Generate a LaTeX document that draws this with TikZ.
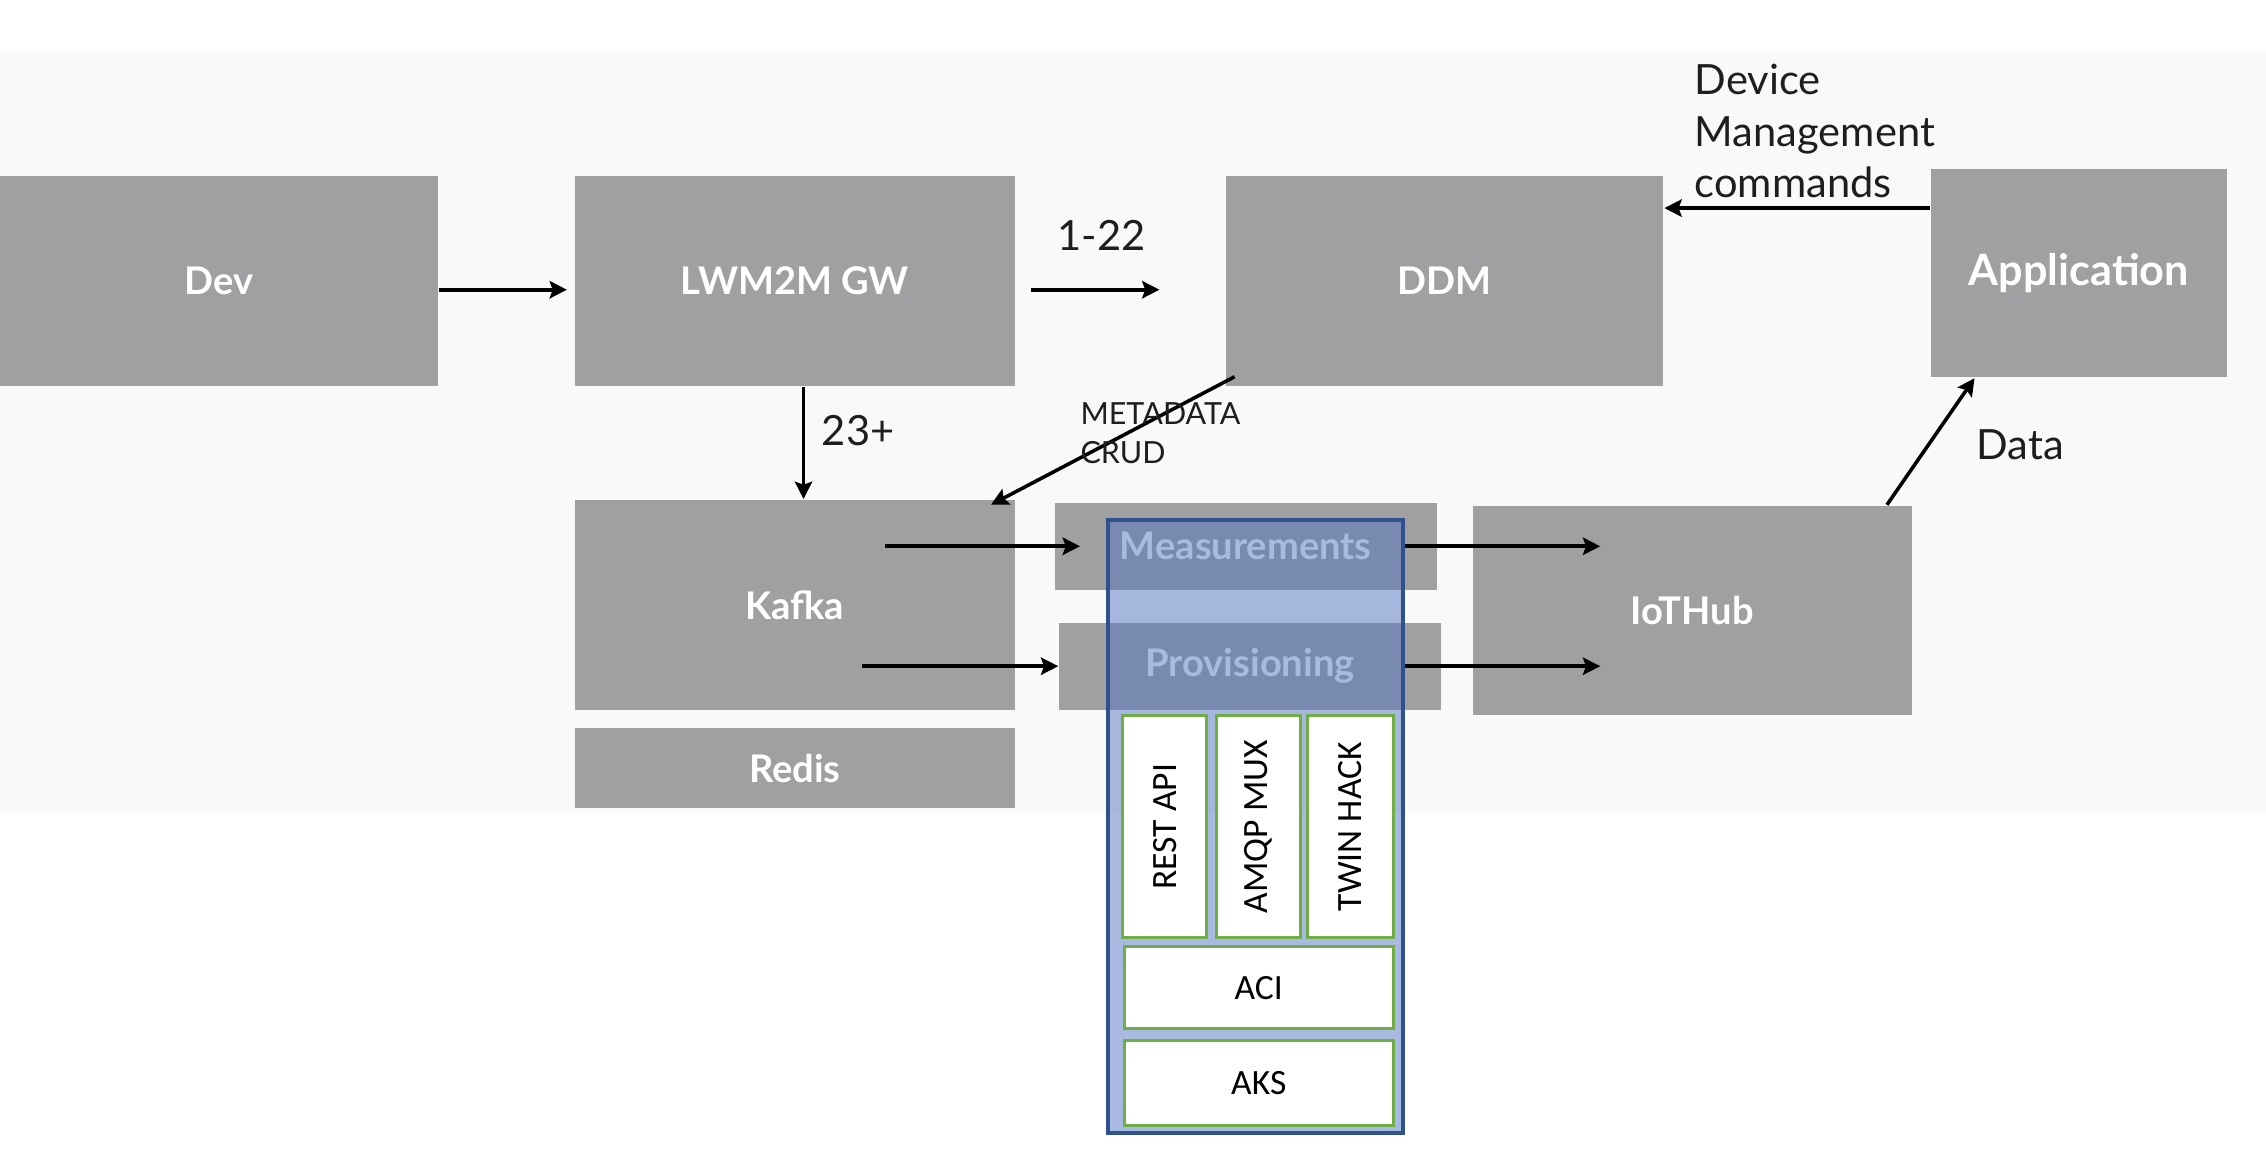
\documentclass[tikz,border=0pt]{standalone}
\usepackage{fontspec}
\setmainfont{Lato}
\newfontfamily\carlito{Carlito}
\usetikzlibrary{calc,arrows.meta}
\definecolor{boxgray}{RGB}{160,160,162}
\definecolor{bgpale}{RGB}{249,249,249}
\definecolor{azblue}{RGB}{83,118,192}
\definecolor{azedge}{RGB}{47,82,143}
\definecolor{leafgreen}{RGB}{112,173,71}
\definecolor{inkgray}{RGB}{30,30,30}

\begin{document}
\begin{tikzpicture}[
	blk/.style={fill=boxgray, text=white, font=\fontsize{7.5}{9}\selectfont\bfseries, inner sep=0pt},
	sub/.style={fill=white, draw=leafgreen, line width=0.6pt, text=black, font=\carlito\fontsize{7}{8}\selectfont, inner sep=0pt},
	arr/.style={-{Stealth[length=3.4pt,width=3.4pt,inset=0.6pt]}, line width=0.7pt, black},
	lbl/.style={text=inkgray, font=\fontsize{8.2}{10.2}\selectfont, inner sep=0pt, align=left}
	]
				%%%%% START %%%%%
				\useasboundingbox (0,0) rectangle (15.68,8.055);
				\fill[white] (0,0) rectangle (15.68,8.055);
				\fill[bgpale] (0,2.435) rectangle (15.68,7.705);
				
				\node[blk, minimum width=3.03cm, minimum height=1.45cm] (dev) at (1.515,6.11) {Dev};
				\node[blk, minimum width=3.04cm, minimum height=1.45cm] (gw) at (5.50,6.11) {LWM2M GW};
				\node[blk, minimum width=3.03cm, minimum height=1.45cm] (ddm) at (9.995,6.11) {DDM};
				\node[blk, minimum width=2.05cm, minimum height=1.44cm, font=\fontsize{8.5}{10}\selectfont\bfseries] (app) at (14.385,6.165) {Application};
				
				\node[blk, minimum width=3.04cm, minimum height=1.45cm] (kafka) at (5.50,3.87) {Kafka};
				\node[blk, minimum width=3.04cm, minimum height=0.55cm] (redis) at (5.50,2.74) {Redis};
				\node[blk, minimum width=2.64cm, minimum height=0.60cm] (meas) at (8.62,4.275) {Measurements};
				\node[blk, minimum width=2.64cm, minimum height=0.60cm] (prov) at (8.65,3.445) {Provisioning};
				\node[blk, minimum width=3.04cm, minimum height=1.45cm] (iot) at (11.71,3.83) {IoTHub};
				
				\coordinate (appcmd) at ([yshift=4.5mm]app.west);
				
				\draw[arr] ([yshift=-0.6mm]dev.east) -- ([shift={(-0.5mm,-0.6mm)}]gw.west);
				\draw[arr, shorten <=1.1mm, shorten >=4.5mm] ([yshift=-0.6mm]gw.east) -- ([yshift=-0.6mm]ddm.west);
				\draw[arr] ([xshift=0.6mm]gw.south) -- ([xshift=0.6mm]kafka.north);
				\draw[arr] ([shift={(0.7mm,0.7mm)}]ddm.south west) -- ([shift={(-1.7mm,-0.4mm)}]kafka.north east);
				\draw[arr] ([xshift=-9mm]kafka.east |- meas.west) -- ([xshift=1.8mm]meas.west);
				\draw[arr] ([xshift=-13.6mm]prov.west) -- (prov.west);
				\draw[arr] (appcmd) -- (ddm.east |- appcmd);
				\draw[arr] ([xshift=-1.8mm]iot.north east) -- ([xshift=3.1mm]app.south west);
				
				\node[lbl, anchor=west] (lone) at (7.31,6.425) {1-22};
				\node[lbl, anchor=west] (ltwo) at (5.68,5.075) {23+};
				\node[lbl, anchor=north west, font=\fontsize{6}{7.7}\selectfont] (lmeta) at (7.47,5.275) {METADATA\\CRUD};
				\node[lbl, anchor=north west] (ldm) at (11.72,7.62) {Device\\Management\\commands};
				\node[lbl, anchor=west] (ldata) at (13.67,4.975) {Data};
				
				% azure stack on top
				\node[fill=azblue, fill opacity=0.5, draw=azedge, draw opacity=1, line width=0.8pt, minimum width=2.04cm, minimum height=4.24cm, inner sep=0pt] (stack) at (8.69,2.335) {};
				\draw[arr] (stack.east |- meas.east) -- ([xshift=8.9mm]iot.west |- meas.east);
				\draw[arr] (stack.east |- prov.east) -- ([xshift=8.9mm]iot.west |- prov.east);
				
				\node[sub, rotate=90, minimum width=1.54cm, minimum height=0.58cm] (rest) at (8.06,2.335) {REST API};
				\node[sub, rotate=90, minimum width=1.54cm, minimum height=0.58cm] (amqp) at (8.71,2.335) {AMQP MUX};
				\node[sub, rotate=90, minimum width=1.54cm, minimum height=0.59cm] (twin) at (9.345,2.335) {TWIN HACK};
				\node[sub, minimum width=1.86cm, minimum height=0.57cm] (aci) at (8.71,1.22) {ACI};
				\node[sub, minimum width=1.86cm, minimum height=0.59cm] (aks) at (8.71,0.56) {AKS};
				%%%%% END %%%%%
			\end{tikzpicture}
\end{document}
